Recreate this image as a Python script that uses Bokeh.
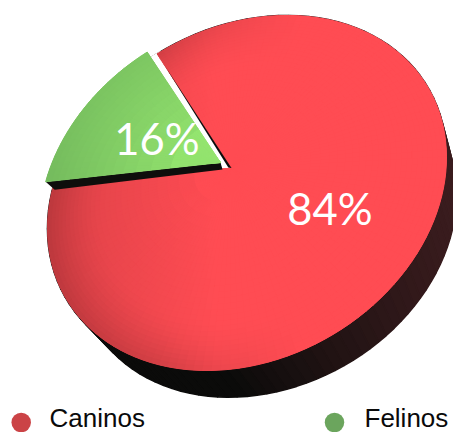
import math
import numpy as np
from bokeh.core.properties import value
from bokeh.embed import file_html
from bokeh.models import Range1d
from bokeh.plotting import figure
from bokeh.resources import INLINE

categories = ["Caninos", "Felinos"]
shares = [84, 16]
legend_colors = ["#cb4346", "#6ba55d"]

W, H = 453, 432
FONT = "Liberation Sans"
LABEL_FONT = "Lato"

# Tilted ellipse of the pie's top face, in page pixels.
CENTER = np.array([246.5, 192.5])
AXES = np.array([[199.5, 0.0], [-35.74, 173.9]])
RED_APEX = np.array([231.0, 167.5])
RED_EDGE_AIM = np.array([157.0, 54.0])

# The pulled-out slice sits on a slightly shifted ellipse.
GREEN_CENTER = CENTER + np.array([-8.0, -3.0])
GREEN_APEX = np.array([220.0, 162.0])
GREEN_EDGE_AIM = np.array([147.0, 52.0])

# The far face of the extruded pie.
BACK_CENTER = np.array([266.5, 228.0])
BACK_SCALE = 0.95


def lerp(c0, c1, t):
    t = min(1.0, max(0.0, t))
    return tuple(a + (b - a) * t for a, b in zip(c0, c1))


def to_hex(c):
    return "#%02x%02x%02x" % tuple(int(round(min(255, max(0, v)))) for v in c)


class TiltedPie:
    """Perspective view of a unit disc, its centre projected onto `apex`."""

    def __init__(self, center, apex):
        self.center = center
        self.a = np.linalg.solve(AXES, apex - center)
        self.n = float(np.hypot(*self.a))
        self.hat = self.a / self.n
        self.g = math.sqrt(1 - self.n ** 2)

    def _boost(self, u, a):
        par = (u @ self.hat)[..., None] * self.hat
        perp = u - par
        return (a + par + self.g * perp) / (1 + u @ a)[..., None]

    def point(self, radius, theta):
        radius, theta = np.broadcast_arrays(radius, theta)
        u = np.stack([radius * np.cos(theta), radius * np.sin(theta)], axis=-1)
        return self.center + self._boost(u, self.a) @ AXES.T

    def angle_of(self, pixel):
        u = np.linalg.solve(AXES, pixel - self.center)
        v = self._boost(u, -self.a)
        return math.atan2(v[1], v[0])


red_pie = TiltedPie(CENTER, RED_APEX)
green_pie = TiltedPie(GREEN_CENTER, GREEN_APEX)

red_sweep = 2 * math.pi * shares[0] / sum(shares)
green_sweep = 2 * math.pi * shares[1] / sum(shares)
red_start = red_pie.angle_of(RED_EDGE_AIM)
green_start = green_pie.angle_of(GREEN_EDGE_AIM)


def wedge_outline(pie, t0, t1, n=160):
    ts = np.linspace(t0, t1, n)
    rim = pie.point(1.0, ts)
    apex = pie.point(0.0, 0.0)
    return np.vstack([apex[None, :], rim])


def red_shade(xy):
    d = np.linalg.solve(AXES, xy - CENTER)
    r = float(np.hypot(*d))
    flat = 0.13 * min(1.0, max(0.0, (215 - xy[0]) / 165))
    rim = 0.13 * max(0.0, (r - 0.72) / 0.28) ** 1.5 * min(1.0, max(0.0, (300 - xy[0]) / 140))
    k = 1 - flat - rim
    return to_hex((255 * k, 76 * k, 83 * k))


def green_shade(xy):
    t = float(np.hypot(*(xy - GREEN_APEX))) / 185
    return to_hex(lerp((152, 234, 113), (114, 184, 92), t))


def side_shade(x):
    if x < 230:
        return to_hex((11, 11, 10))
    return to_hex(lerp((11, 11, 10), (58, 28, 30), (x - 230) / 220))


def shaded_cells(p, pie, t0, t1, n_t, n_r, shade):
    xs, ys, colors = [], [], []
    ts = np.linspace(t0, t1, n_t + 1)
    rs = np.sqrt(np.linspace(0, 1, n_r + 1))
    for i in range(n_t):
        for j in range(n_r):
            quad = pie.point(
                np.array([rs[j], rs[j + 1], rs[j + 1], rs[j]]),
                np.array([ts[i], ts[i], ts[i + 1], ts[i + 1]]),
            )
            xs.append(quad[:, 0].tolist())
            ys.append(quad[:, 1].tolist())
            colors.append(shade(quad.mean(axis=0)))
    p.patches(xs, ys, fill_color=colors, line_color=colors, line_width=1.0)


p = figure(
    width=W,
    height=H,
    x_range=Range1d(0, W),
    y_range=Range1d(H, 0),
    output_backend="svg",
    toolbar_location=None,
    min_border=0,
    outline_line_color=None,
)
p.xaxis.visible = False
p.yaxis.visible = False
p.xgrid.visible = False
p.ygrid.visible = False

# Side wall: a ribbon from the top rim to the far rim.
ts = np.linspace(0, 2 * math.pi, 121)
unit = np.stack([np.cos(ts), np.sin(ts)], axis=1)
front = CENTER + unit @ AXES.T
back = BACK_CENTER + BACK_SCALE * unit @ AXES.T
rib_x, rib_y, rib_c = [], [], []
for i in range(len(ts) - 1):
    quad = np.array([front[i], front[i + 1], back[i + 1], back[i]])
    rib_x.append(quad[:, 0].tolist())
    rib_y.append(quad[:, 1].tolist())
    rib_c.append(side_shade(quad[:, 0].mean()))
p.patches(rib_x, rib_y, fill_color=rib_c, line_color=rib_c, line_width=1.6)

# The notch left by the pulled-out slice stays open.
notch = wedge_outline(red_pie, red_start - green_sweep - 0.02, red_start + 0.02)
p.patch(notch[:, 0], notch[:, 1], fill_color="white", line_color="white", line_width=2)

# Large slice.
red_outline = wedge_outline(red_pie, red_start, red_start + red_sweep, 300)
p.patch(red_outline[:, 0], red_outline[:, 1], fill_color="#ff4c53", line_color=None)
shaded_cells(p, red_pie, red_start, red_start + red_sweep, 130, 26, red_shade)

# Inner wall of the notch, seen as a thin dark sliver beside the white gap.
edge_tip = red_pie.point(0.9, red_start)
sliver = np.array([RED_APEX, edge_tip, RED_APEX + np.array([-3.2, -0.6])])
p.patch(sliver[:, 0], sliver[:, 1], fill_color="#0c0c0c", line_color=None)

# Small slice with the dark wall below its lower edge.
g_apex = green_pie.point(0.0, 0.0)
g_rim = green_pie.point(1.0, green_start - green_sweep)
wall = np.array([g_apex, g_rim, g_rim + np.array([9.0, 8.0]), g_apex + np.array([2.0, 7.0])])
p.patch(wall[:, 0], wall[:, 1], fill_color="#0e0e0c", line_color=None)

green_outline = wedge_outline(green_pie, green_start - green_sweep, green_start)
p.patch(green_outline[:, 0], green_outline[:, 1], fill_color="#86cf68", line_color=None)
shaded_cells(p, green_pie, green_start - green_sweep, green_start, 24, 14, green_shade)

# Percentage labels.
for share, x, y in zip(shares, [329.5, 156.5], [207.0, 137.5]):
    p.text(
        [x], [y], text=[f"{share}%"],
        text_color="white", text_font=value(LABEL_FONT), text_font_size="43.5px",
        text_align="center", text_baseline="middle",
    )

# Legend row along the bottom edge.
for name, color, mx, tx in zip(categories, legend_colors, [20.7, 334.0], [49.0, 364.0]):
    p.scatter([mx], [422], size=19.5, marker="circle", fill_color=color, line_color=None)
    p.text(
        [tx], [417.0], text=[name],
        text_color="#0a0a0a", text_font=value(FONT), text_font_size="26px",
        text_align="left", text_baseline="middle",
    )

open("out.html", "w").write(file_html(p, INLINE))
